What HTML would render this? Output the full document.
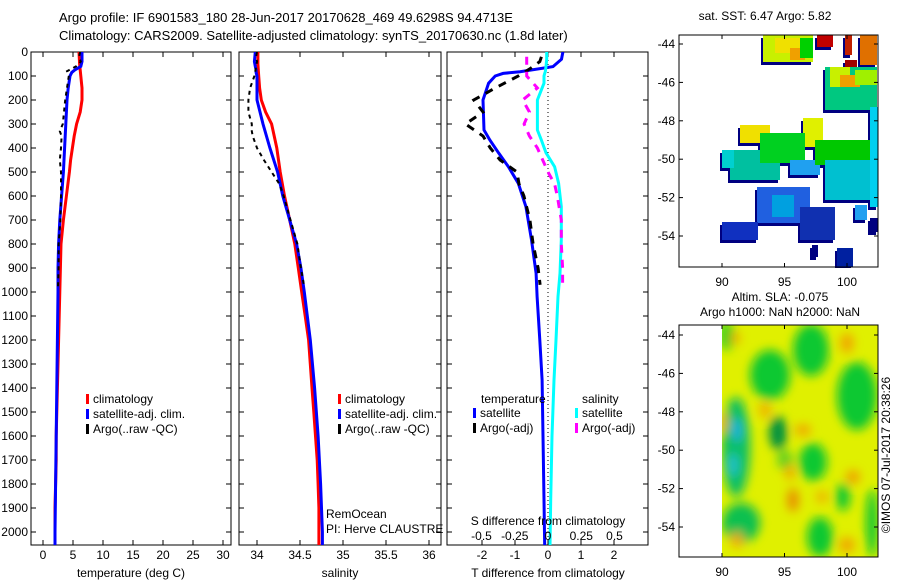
<!DOCTYPE html>
<html><head><meta charset="utf-8"><style>
html,body{margin:0;padding:0;background:#fff;}
svg{display:block;font-family:"Liberation Sans",sans-serif;}
</style></head><body>
<svg id="fig" width="900" height="580" viewBox="0 0 900 580" xmlns="http://www.w3.org/2000/svg">
<defs>
<clipPath id="c1"><rect x="31" y="52" width="200" height="493"/></clipPath>
<clipPath id="c2"><rect x="239" y="52" width="202" height="493"/></clipPath>
<clipPath id="c3"><rect x="447" y="52" width="201" height="493"/></clipPath>
<clipPath id="cm2"><rect x="722" y="325" width="156" height="232"/></clipPath>
<filter id="blur" x="-50%" y="-50%" width="200%" height="200%"><feGaussianBlur stdDeviation="5"/></filter>
</defs>
<text x="59" y="22" font-size="13">Argo profile: IF 6901583_180 28-Jun-2017 20170628_469 49.6298S 94.4713E</text>
<text x="59" y="40" font-size="13">Climatology: CARS2009. Satellite-adjusted climatology: synTS_20170630.nc (1.8d later)</text>
<g id="p1"></g>
<g id="p2"></g>
<g id="p3"></g>
<g id="m1"></g>
<g id="m2"></g>
</svg>
<script>
// ---- data ----
const climDepth=[0,50,100,150,200,250,300,350,400,450,500,600,700,800,900,1000,1100,1200,1300,1400,1500,1600,1700,1800,1900,2000,2060];
const climT=[6.0,6.1,6.3,6.5,6.5,6.2,5.6,5.2,4.9,4.6,4.4,3.9,3.4,3.0,2.9,2.8,2.7,2.6,2.5,2.4,2.3,2.2,2.2,2.1,2.0,2.0,2.0];
const climS=[34.01,34.01,34.02,34.03,34.05,34.1,34.17,34.2,34.23,34.25,34.27,34.32,34.38,34.44,34.48,34.52,34.56,34.6,34.62,34.64,34.66,34.68,34.7,34.71,34.72,34.72,34.72];
const satDepth=[0,40,60,75,85,100,150,200,300,400,500,600,700,800,900,1000,1200,1400,1600,1800,2000,2060];
const satT=[6.5,6.5,6.3,5.3,4.8,4.5,4.2,4.0,3.8,3.6,3.4,3.1,2.8,2.6,2.5,2.5,2.4,2.3,2.2,2.1,2.0,2.0];
const satS=[33.98,33.97,33.98,33.99,33.99,34.0,34.0,34.0,34.07,34.15,34.24,34.3,34.38,34.46,34.51,34.55,34.62,34.67,34.71,34.74,34.76,34.76];
const argoDepth=[0,20,40,60,80,100,150,200,250,300,330,350,400,450,500,550,600,700,800,900,980];
const argoT=[6.2,6.0,6.3,5.5,4.0,4.3,4.0,3.7,3.5,3.3,2.8,3.1,3.0,2.8,3.0,3.0,3.0,2.9,2.6,2.6,2.5];
const argoS=[34.0,33.99,34.0,33.99,33.98,33.97,33.92,33.9,33.9,33.94,33.94,33.95,34.0,34.08,34.17,34.26,34.31,34.39,34.47,34.51,34.55];
const dSatDepth=[0,30,61,82,89,100,130,200,325,367,420,478,547,644,783,922,1019,1200,1367,1600,1867,2060];
const dSatT=[0.45,0.41,0.15,-0.85,-1.36,-1.6,-1.8,-1.97,-1.94,-1.76,-1.5,-1.2,-0.9,-0.67,-0.5,-0.36,-0.33,-0.25,-0.18,-0.15,-0.12,-0.1];
const dSatS=[-0.01,-0.01,-0.015,-0.02,-0.025,-0.03,-0.03,-0.08,-0.08,-0.05,-0.015,0.05,0.08,0.1,0.1,0.09,0.075,0.06,0.045,0.03,0.02,0.015];
const dArgoDepth=[20,40,70,100,150,200,250,300,350,400,450,500,550,600,700,800,900,970];
const dArgoT=[-0.2,-0.25,-0.55,-0.9,-1.6,-2.25,-1.97,-2.5,-1.97,-1.75,-1.45,-0.94,-0.88,-0.73,-0.55,-0.45,-0.3,-0.24];
const dArgoS=[-0.16,-0.16,-0.16,-0.16,-0.08,-0.19,-0.14,-0.18,-0.14,-0.08,-0.04,0.0,0.05,0.07,0.1,0.1,0.11,0.11];
const depthTicks=[0,100,200,300,400,500,600,700,800,900,1000,1100,1200,1300,1400,1500,1600,1700,1800,1900,2000];
const tTicks=[0,5,10,15,20,25,30];
const sTicks=[34,34.5,35,35.5,36];
const dTTicks=[-2,-1,0,1,2];
const dTTickLabels=["-2","-1","0","1","2"];
const dSTicks=[-0.5,-0.25,0,0.25,0.5];
const dSTickLabels=["-0.5","-0.25","0","0.25","0.5"];
const latTicks=[-44,-46,-48,-50,-52,-54];
const lonTicks=[90,95,100];

const NS="http://www.w3.org/2000/svg";
function mk(parent,tag,attrs,text){const e=document.createElementNS(NS,tag);for(const k in attrs)e.setAttribute(k,attrs[k]);if(text!==undefined)e.textContent=text;parent.appendChild(e);return e;}
const yD=d=>52+0.24*d;
const xT=t=>43+6*t;
const xS=s=>257+86*(s-34);
const xDT=t=>548+33*t;
const xDS=s=>548+133*s;
function stepPts(depths,vals,fx){let a=[];for(let i=0;i<depths.length;i++){a.push(fx(vals[i]).toFixed(1)+","+yD(depths[i]).toFixed(1));}return a.join(" ");}

function frame(g,x0,x1,labels){
  let r=mk(g,'rect',{x:x0,y:52,width:x1-x0,height:493,fill:'none',stroke:'#000','stroke-width':1});
  
  
  depthTicks.forEach(d=>{
    mk(g,'line',{x1:x0,x2:x0+5,y1:yD(d),y2:yD(d),stroke:'#000'});
    mk(g,'line',{x1:x1-5,x2:x1,y1:yD(d),y2:yD(d),stroke:'#000'});
    if(labels){let t=mk(g,'text',{x:x0-3,y:yD(d)+4,'font-size':12,'text-anchor':'end'},String(d));
      
      }
  });
}
function xticks(g,vals,labels,fx,ly){
  vals.forEach((v,i)=>{const x=fx(v);
    mk(g,'line',{x1:x,x2:x,y1:52,y2:57,stroke:'#000'});
    mk(g,'line',{x1:x,x2:x,y1:540,y2:545,stroke:'#000'});
    let t=mk(g,'text',{x:x,y:ly,'font-size':12,'text-anchor':'middle'},labels[i]);
    
    
  });
}
function line(g,clip,depths,vals,fx,color,w,dash,name){
  let p=mk(g,'polyline',{points:stepPts(depths,vals,fx),fill:'none',stroke:color,'stroke-width':w,'clip-path':'url(#'+clip+')','stroke-linejoin':'miter'});
  if(dash)p.setAttribute('stroke-dasharray',dash);
  
  
}
function legend(g,x,y,color,label,name){
  mk(g,'rect',{x:x,y:y-9,width:3,height:10,fill:color});
  let t=mk(g,'text',{x:x+7,y:y,'font-size':12},label);
  
  
}

// panel 1
const p1=document.getElementById('p1');
frame(p1,31,231,true);
xticks(p1,tTicks,tTicks.map(String),xT,559);
line(p1,'c1',climDepth,climT,xT,'#ff0000',3,null,'climatology-temperature-line');
line(p1,'c1',satDepth,satT,xT,'#0000ff',3,null,'satellite-temperature-line');
line(p1,'c1',argoDepth,argoT,xT,'#000',2,'4,4','argo-temperature-line');
let t1=mk(p1,'text',{x:131,y:577,'font-size':12,'text-anchor':'middle'},'temperature (deg C)');

legend(p1,86,403,'#ff0000','climatology','legend-climatology');
legend(p1,86,418,'#0000ff','satellite-adj. clim.','legend-satellite');
legend(p1,86,433,'#000','Argo(..raw -QC)','legend-argo');

// panel 2
const p2=document.getElementById('p2');
frame(p2,239,441,false);
xticks(p2,sTicks,sTicks.map(String),xS,559);
line(p2,'c2',climDepth,climS,xS,'#ff0000',3,null,'climatology-salinity-line');
line(p2,'c2',satDepth,satS,xS,'#0000ff',3,null,'satellite-salinity-line');
line(p2,'c2',argoDepth,argoS,xS,'#000',2,'4,4','argo-salinity-line');
let t2=mk(p2,'text',{x:340,y:577,'font-size':12,'text-anchor':'middle'},'salinity');

legend(p2,338,403,'#ff0000','climatology','legend-climatology');
legend(p2,338,418,'#0000ff','satellite-adj. clim.','legend-satellite');
legend(p2,338,433,'#000','Argo(..raw -QC)','legend-argo');
mk(p2,'text',{x:326,y:518,'font-size':12},'RemOcean');
mk(p2,'text',{x:326,y:533,'font-size':12},'PI: Herve CLAUSTRE');

// panel 3
const p3=document.getElementById('p3');
frame(p3,447,648,false);
xticks(p3,dTTicks,dTTickLabels,xDT,559);
mk(p3,'line',{x1:548,x2:548,y1:52,y2:545,stroke:'#000','stroke-dasharray':'1,3'});
line(p3,'c3',dSatDepth,dSatT,xDT,'#0000ff',3,null,'satellite-temperature-difference-line');
line(p3,'c3',dSatDepth,dSatS,xDS,'#00ffff',3,null,'satellite-salinity-difference-line');
line(p3,'c3',dArgoDepth,dArgoT,xDT,'#000',3,'8,7','argo-temperature-difference-line');
line(p3,'c3',dArgoDepth,dArgoS,xDS,'#ff00ff',3,'8,7','argo-salinity-difference-line');
dSTicks.forEach((v,i)=>{let t=mk(p3,'text',{x:xDS(v),y:540,'font-size':12,'text-anchor':'middle'},dSTickLabels[i]);
  });
mk(p3,'text',{x:548,y:525,'font-size':12,'text-anchor':'middle'},'S difference from climatology');
let t3=mk(p3,'text',{x:548,y:577,'font-size':12,'text-anchor':'middle'},'T difference from climatology');

mk(p3,'text',{x:481,y:403,'font-size':12},'temperature');
mk(p3,'text',{x:582,y:403,'font-size':12},'salinity');
legend(p3,473,417,'#0000ff','satellite','legend-temp-satellite');
legend(p3,473,432,'#000','Argo(-adj)','legend-temp-argo');
legend(p3,575,417,'#00ffff','satellite','legend-sal-satellite');
legend(p3,575,432,'#ff00ff','Argo(-adj)','legend-sal-argo');

// maps
const lonX=l=>722+12.5*(l-90);
function mapFrame(g,y0,yLat44){
  mk(g,'rect',{x:679,y:y0,width:199,height:232,fill:'none',stroke:'#000'});
  latTicks.forEach(l=>{const y=yLat44+19.2*(-44-l);
    mk(g,'line',{x1:679,x2:683,y1:y,y2:y,stroke:'#000'});mk(g,'line',{x1:874,x2:878,y1:y,y2:y,stroke:'#000'});
    let t=mk(g,'text',{x:675,y:y+4,'font-size':12,'text-anchor':'end'},String(l));
    });
  lonTicks.forEach(l=>{const x=lonX(l);
    mk(g,'line',{x1:x,x2:x,y1:y0,y2:y0+4,stroke:'#000'});mk(g,'line',{x1:x,x2:x,y1:y0+228,y2:y0+232,stroke:'#000'});
    let t=mk(g,'text',{x:x,y:y0+251,'font-size':12,'text-anchor':'middle'},String(l));
    });
}
const m1=document.getElementById('m1');
const sstPatches=[
 [763,35,50,27,'#c8f000'],[775,38,30,15,'#f0e000'],[790,48,15,12,'#f0a000'],[800,38,13,20,'#00d000'],
 [817,35,16,12,'#c00000'],[845,35,7,20,'#c02000'],[860,35,17,30,'#e07000'],[845,60,12,10,'#a00000'],
 [825,67,52,43,'#00c880'],[830,67,20,20,'#c8f000'],[840,75,20,12,'#f0a000'],[855,70,22,15,'#a0f000'],
 [740,125,30,18,'#f0e000'],[803,118,20,29,'#e0f000'],[730,150,50,30,'#00c0a0'],[722,150,12,18,'#00d0d0'],
 [760,133,45,30,'#00d020'],[790,160,30,15,'#20a0f0'],[815,140,62,25,'#00c800'],[825,160,52,40,'#00c0d0'],
 [870,107,8,100,'#00d0f0'],[757,187,53,36,'#2060e0'],[772,195,22,22,'#00a0e0'],
 [722,222,36,18,'#1030c0'],[800,207,35,33,'#1030b0'],[812,245,6,12,'#000080'],[837,248,16,19,'#0020a0'],
 [870,218,8,14,'#000080'],[855,205,12,15,'#20a0f0']];
sstPatches.forEach(p=>{
  mk(m1,'rect',{x:p[0]-2,y:p[1]+3,width:p[2],height:p[3],fill:'#000080'});
});
sstPatches.forEach(p=>{let r=mk(m1,'rect',{x:p[0],y:p[1],width:p[2],height:p[3],fill:p[4]});
  });
mk(m1,'rect',{x:878,y:30,width:20,height:240,fill:'#fff'});
mk(m1,'rect',{x:660,y:268,width:230,height:10,fill:'#fff'});
mapFrame(m1,35,44);
mk(m1,'text',{x:765,y:20,'font-size':12,'text-anchor':'middle'},'sat. SST: 6.47 Argo: 5.82');

const m2=document.getElementById('m2');
mk(m2,'text',{x:780,y:301,'font-size':12,'text-anchor':'middle'},'Altim. SLA: -0.075');
mk(m2,'text',{x:780,y:316,'font-size':12,'text-anchor':'middle'},'Argo h1000: NaN h2000: NaN');
const gm=mk(m2,'g',{'clip-path':'url(#cm2)'});
mk(gm,'rect',{x:722,y:325,width:156,height:232,fill:'#e0f000'});
const gb=mk(gm,'g',{filter:'url(#blur)'});
const slaBlobs=[
 [727,336,8,14,'#20d020'],[770,375,20,25,'#10c830'],[811,350,18,26,'#10c830'],[857,396,20,34,'#10c830'],
 [736,447,14,50,'#10c060'],[737,430,5,12,'#20b0e0'],[733,465,5,12,'#20c0d0'],[778,433,9,17,'#009040'],
 [813,462,14,19,'#10c830'],[843,497,7,14,'#10c830'],[741,523,19,20,'#10c050'],[820,537,13,20,'#10c830'],
 [872,523,6,34,'#10c830'],[785,460,8,10,'#60d020'],
 [735,338,5,6,'#f0a800'],[723,423,4,10,'#f0b000'],[765,410,6,8,'#f0b000'],[803,430,8,6,'#f0a800'],
 [847,343,7,10,'#f0a800'],[790,472,5,8,'#f0a800'],[793,500,6,12,'#e89000'],[822,497,6,6,'#f0b000'],
 [853,477,7,7,'#f0a000'],[737,540,6,8,'#f0a800'],[847,545,8,8,'#f0a800']];
slaBlobs.forEach(b=>{let e=mk(gb,'ellipse',{cx:b[0],cy:b[1],rx:b[2],ry:b[3],fill:b[4]});
  });
mapFrame(m2,325,335);
let cp=mk(m2,'text',{x:0,y:0,'font-size':12,'text-anchor':'middle',transform:'translate(890,455) rotate(-90)'},'©IMOS 07-Jul-2017 20:38:26');

</script>
</body></html>
